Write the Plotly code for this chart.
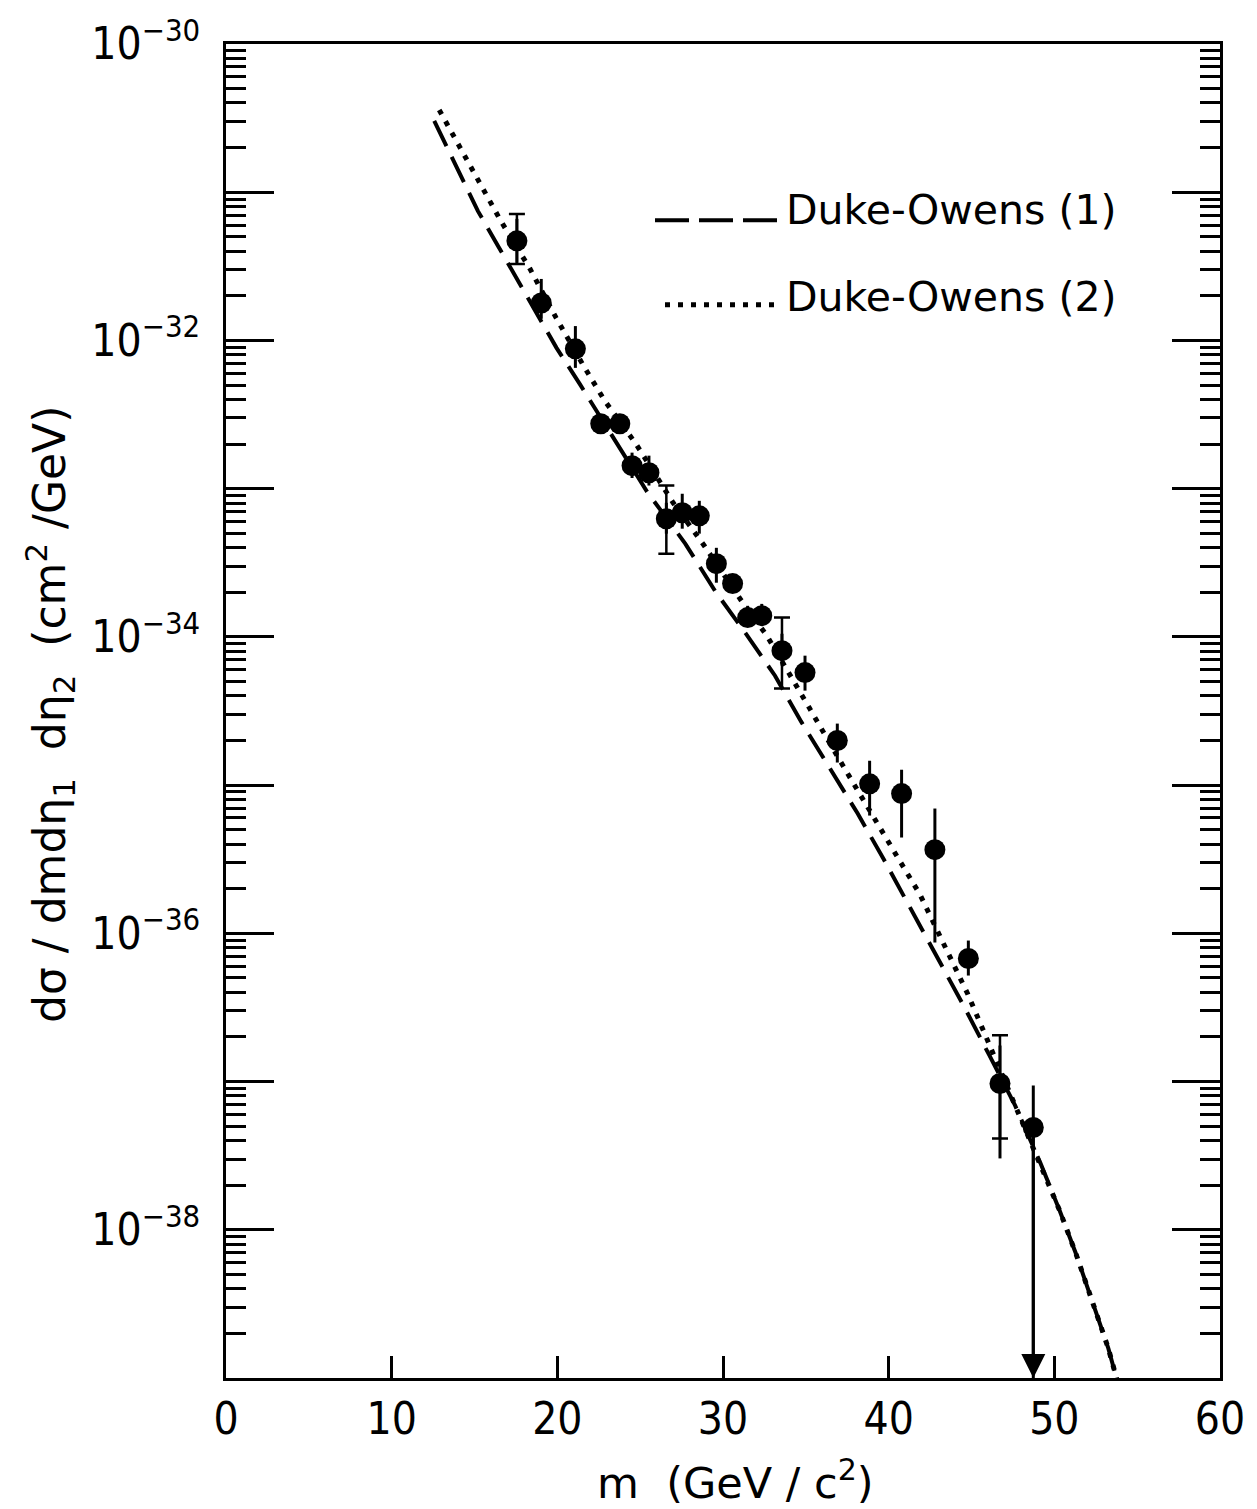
import math
import plotly.graph_objects as go

# ---------------- data ----------------
mass = [17.56, 19.03, 21.09, 22.62, 23.77, 24.51, 25.53, 26.58, 27.54, 28.57,
        29.60, 30.58, 31.49, 32.34, 33.56, 34.95, 36.90, 38.85, 40.78, 42.79,
        44.81, 46.72, 48.73]
sigma = [4.70e-32, 1.79e-32, 8.78e-33, 2.74e-33, 2.74e-33, 1.43e-33, 1.28e-33,
         6.27e-34, 6.88e-34, 6.56e-34, 3.12e-34, 2.29e-34, 1.35e-34, 1.39e-34,
         8.07e-35, 5.74e-35, 2.00e-35, 1.02e-35, 8.77e-36, 3.67e-36, 6.76e-37,
         9.70e-38, 4.90e-38]
stat_hi = [6.61e-32, 2.60e-32, 1.25e-32, 3.10e-33, 3.10e-33, 1.75e-33, 1.67e-33,
           8.03e-34, 9.24e-34, 8.28e-34, 3.99e-34, 2.59e-34, 1.62e-34, 1.67e-34,
           1.05e-34, 7.47e-35, 2.60e-35, 1.46e-35, 1.27e-35, 6.95e-36, 8.94e-37,
           1.75e-37, 9.41e-38]
stat_lo = [3.34e-32, 1.40e-32, 6.53e-33, 2.38e-33, 2.38e-33, 1.18e-33, 1.05e-33,
           4.97e-34, 5.37e-34, 4.97e-34, 2.32e-34, 2.02e-34, 1.19e-34, 1.19e-34,
           6.40e-35, 4.34e-35, 1.42e-35, 6.23e-36, 4.43e-36, 8.67e-37, 5.19e-37,
           3.03e-38, 1.0e-39]
# systematic brackets
sys_index = [0, 7, 14, 21]
sys_hi = [7.14e-32, 1.05e-33, 1.35e-34, 2.05e-37]
sys_lo = [3.28e-32, 3.64e-34, 4.48e-35, 4.13e-38]

# theory curves (log10 of cross section)
do1_m = [12.57, 15.20, 16.42, 17.51, 18.73, 19.95, 21.35, 23.60, 25.42, 27.73,
         29.55, 31.38, 33.14, 34.72, 36.37, 38.13, 39.71, 41.30, 42.94, 44.52,
         46.05, 47.63, 49.16, 50.32, 51.30, 52.16, 53.26, 53.85]
do1_log = [-30.519, -31.126, -31.362, -31.578, -31.821, -32.050, -32.293, -32.697,
           -33.021, -33.372, -33.695, -33.978, -34.262, -34.572, -34.875, -35.192,
           -35.502, -35.826, -36.163, -36.487, -36.817, -37.161, -37.550, -37.870,
           -38.160, -38.440, -38.800, -39.040]
do2_m = [12.87, 15.79, 16.59, 18.35, 19.93, 21.58, 22.86, 24.74, 26.99, 28.87,
         31.19, 32.65, 33.92, 35.20, 37.27, 38.97, 40.62, 41.89, 43.36, 44.76,
         45.74, 47.63, 49.16, 50.32, 51.30, 52.16, 53.26, 53.85]
do2_log = [-30.445, -31.045, -31.194, -31.517, -31.848, -32.171, -32.407, -32.697,
           -33.095, -33.385, -33.769, -33.992, -34.241, -34.477, -34.875, -35.185,
           -35.502, -35.738, -36.076, -36.406, -36.662, -37.161, -37.550, -37.870,
           -38.160, -38.440, -38.800, -39.040]

x_ticks = [0, 10, 20, 30, 40, 50, 60]
y_label_exponents = [-38, -36, -34, -32, -30]
y_odd_exponents = [-39, -37, -35, -33, -31]
y_all_exponents = list(range(-39, -30))
legend_labels = ["Duke-Owens (1)", "Duke-Owens (2)"]

# ---------------- figure ----------------
W, H = 1257, 1509
L, R, T, B = 226, 1220, 38, 1378
PW, PH = R - L, B - T
FONT = "DejaVu Sans"
TICKFONT = "Liberation Sans Narrow, DejaVu Sans Condensed, DejaVu Sans"


def px_x(p):
    return (p - L) / PW


def px_y(p):
    return (B - p) / PH


fig = go.Figure()

fig.add_trace(go.Scatter(
    x=do1_m, y=[10 ** v for v in do1_log], mode="lines",
    line=dict(color="black", width=4, dash="28px,12px"),
    showlegend=False, hoverinfo="skip"))
fig.add_trace(go.Scatter(
    x=do2_m, y=[10 ** v for v in do2_log], mode="lines",
    line=dict(color="black", width=5, dash="5px,8px"),
    showlegend=False, hoverinfo="skip"))

sys_m = [mass[i] for i in sys_index]
sys_s = [sigma[i] for i in sys_index]
fig.add_trace(go.Scatter(
    x=sys_m, y=sys_s, mode="markers",
    marker=dict(size=2, color="black", opacity=0),
    error_y=dict(type="data", symmetric=False,
                 array=[h - s for h, s in zip(sys_hi, sys_s)],
                 arrayminus=[s - l for s, l in zip(sys_s, sys_lo)],
                 color="black", thickness=2.5, width=8),
    showlegend=False))

fig.add_trace(go.Scatter(
    x=mass, y=sigma, mode="markers",
    marker=dict(size=21, color="black", symbol="circle"),
    error_y=dict(type="data", symmetric=False,
                 array=[h - s for h, s in zip(stat_hi, sigma)],
                 arrayminus=[s - l for s, l in zip(sigma, stat_lo)],
                 color="black", thickness=3, width=0),
    showlegend=False))

# invisible trace so the secondary (odd-decade tick) axis is drawn
fig.add_trace(go.Scatter(x=[None], y=[None], yaxis="y2", mode="markers",
                         showlegend=False, hoverinfo="skip"))

# upper-limit arrow on the last point
fig.add_annotation(x=mass[-1], y=math.log10(stat_lo[-1]),
                   ax=mass[-1], ay=math.log10(sigma[-1]),
                   xref="x", yref="y", axref="x", ayref="y",
                   text="", showarrow=True, arrowhead=2, arrowsize=1.6,
                   arrowwidth=3, arrowcolor="black", standoff=0)

# legend drawn by hand
fig.add_shape(type="line", xref="paper", yref="paper",
              x0=px_x(655), x1=px_x(777), y0=px_y(215), y1=px_y(215),
              line=dict(color="black", width=4, dash="34px,10px"))
fig.add_shape(type="line", xref="paper", yref="paper",
              x0=px_x(665), x1=px_x(782), y0=px_y(300), y1=px_y(300),
              line=dict(color="black", width=5, dash="5px,8px"))
fig.add_annotation(x=px_x(784), y=px_y(205), xref="paper", yref="paper",
                   text=legend_labels[0], showarrow=False, xanchor="left", yanchor="middle",
                   font=dict(family=FONT, size=41, color="black"))
fig.add_annotation(x=px_x(784), y=px_y(292), xref="paper", yref="paper",
                   text=legend_labels[1], showarrow=False, xanchor="left", yanchor="middle",
                   font=dict(family=FONT, size=41, color="black"))

# axis titles
fig.add_annotation(x=px_x(50), y=px_y(712), xref="paper", yref="paper",
                   text="dσ / dmdη<sub>1</sub>  dη<sub>2</sub>  (cm<sup>2</sup> /GeV)",
                   textangle=-90, showarrow=False, xanchor="center", yanchor="middle",
                   font=dict(family=FONT, size=44, color="black"))
fig.add_annotation(x=px_x(735), y=px_y(1480), xref="paper", yref="paper",
                   text="m  (GeV / c<sup>2</sup>)", showarrow=False,
                   xanchor="center", yanchor="middle",
                   font=dict(family=FONT, size=43, color="black"))

y_tickvals = [10.0 ** e for e in y_label_exponents]
y_ticktext = ["10<sup>−%d</sup>" % (-e) for e in y_label_exponents]
minor_vals = [k * 10.0 ** e for e in y_all_exponents for k in range(2, 10)]

fig.update_layout(
    width=W, height=H, autosize=False,
    margin=dict(l=L, r=W - R, t=T, b=H - B, pad=0),
    paper_bgcolor="white", plot_bgcolor="white",
    font=dict(family=FONT, color="black"),
    xaxis=dict(range=[0, 60], tickmode="array", tickvals=x_ticks,
               ticks="inside", ticklen=22, tickwidth=3, tickcolor="black",
               showline=True, linewidth=3, linecolor="black", mirror=True,
               showgrid=False, zeroline=False,
               tickfont=dict(family=TICKFONT, size=44, color="black")),
    yaxis=dict(type="log", range=[-39, -30], tickmode="array",
               tickvals=y_tickvals, ticktext=y_ticktext,
               ticks="inside", ticklen=48, tickwidth=3, tickcolor="black",
               showline=True, linewidth=3, linecolor="black", mirror="ticks",
               showgrid=False, zeroline=False, ticklabelstandoff=14,
               tickfont=dict(family=TICKFONT, size=44, color="black"),
               minor=dict(tickmode="array", tickvals=minor_vals, ticks="inside",
                          ticklen=20, tickwidth=2.5, tickcolor="black", showgrid=False)),
    yaxis2=dict(type="log", range=[-39, -30], overlaying="y", side="left",
                tickmode="array", tickvals=[10.0 ** e for e in y_odd_exponents],
                showticklabels=False, ticks="inside", ticklen=48, tickwidth=3,
                tickcolor="black", showline=False, mirror="ticks",
                showgrid=False, zeroline=False),
)

fig.write_html("out.html", config={"displayModeBar": False},
               post_script="document.body.style.margin='0';")
